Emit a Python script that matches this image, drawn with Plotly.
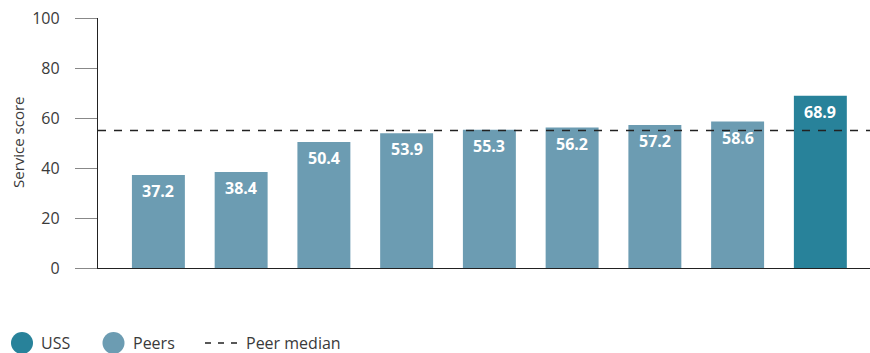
import plotly.graph_objects as go

# Service scores: eight peers (ascending) followed by USS
categories = ["Peer 1", "Peer 2", "Peer 3", "Peer 4", "Peer 5",
              "Peer 6", "Peer 7", "Peer 8", "USS"]
scores = [37.2, 38.4, 50.4, 53.9, 55.3, 56.2, 57.2, 58.6, 68.9]
groups = ["Peers"] * 8 + ["USS"]
peer_median = 55.0
y_ticks = [0, 20, 40, 60, 80, 100]

PEER_COLOR = "#6C9CB2"
USS_COLOR = "#28829A"
TEXT_COLOR = "#3a3a3a"
FONT = "Open Sans, Segoe UI, sans-serif"

colors = [USS_COLOR if g == "USS" else PEER_COLOR for g in groups]
xpos = list(range(len(categories)))

fig = go.Figure()
fig.add_trace(go.Bar(
    x=xpos, y=scores, width=0.64,
    marker=dict(color=colors, line=dict(width=0)),
    hovertext=categories, showlegend=False,
))

# value labels just inside the top of each bar
for xi, v in zip(xpos, scores):
    fig.add_annotation(
        x=xi, y=v, xref="x", yref="y", text=f"<b>{v:.1f}</b>",
        showarrow=False, yanchor="top", yshift=-3,
        font=dict(family=FONT, size=16, color="white"),
    )

# peer median reference line
fig.add_shape(type="line", xref="paper", yref="y", x0=0, x1=1,
              y0=peer_median, y1=peer_median,
              line=dict(color="#222222", width=1.4, dash="8px,8px"))

# y-axis title
fig.add_annotation(x=(18 - 98) / 772, y=0.5, xref="paper", yref="paper",
                   text="Service score", textangle=-90, showarrow=False,
                   xanchor="center", yanchor="middle",
                   font=dict(family=FONT, size=15, color=TEXT_COLOR))

# legend drawn beneath the plot
leg_y = -0.30
def circle(cx_px, color):
    fig.add_shape(type="circle", xref="paper", yref="paper",
                  xsizemode="pixel", ysizemode="pixel",
                  xanchor=(cx_px - 98) / 772, yanchor=leg_y,
                  x0=-11, x1=11, y0=-11, y1=11,
                  fillcolor=color, line=dict(width=0))

def label(px, text):
    fig.add_annotation(x=(px - 98) / 772, y=leg_y, xref="paper", yref="paper",
                       text=text, showarrow=False, xanchor="left",
                       yanchor="middle",
                       font=dict(family=FONT, size=16, color=TEXT_COLOR))

circle(22, USS_COLOR)
label(39, "USS")
circle(113.5, PEER_COLOR)
label(131, "Peers")
fig.add_shape(type="line", xref="paper", yref="paper",
              x0=(205 - 98) / 772, x1=(238 - 98) / 772, y0=leg_y, y1=leg_y,
              line=dict(color="#222222", width=1.3, dash="6px,7px"))
label(244, "Peer median")

fig.update_layout(
    width=870, height=353,
    margin=dict(l=98, r=0, t=18, b=85),
    plot_bgcolor="white", paper_bgcolor="white",
    font=dict(family=FONT, color=TEXT_COLOR),
    xaxis=dict(range=[-0.73, 8.6], showticklabels=False, ticks="",
               showgrid=False, zeroline=False, showline=True,
               linecolor="#222222", linewidth=1.3, fixedrange=True),
    yaxis=dict(range=[0, 100], tickvals=y_ticks, ticks="outside",
               ticklen=22, tickcolor="#888888", tickwidth=1.3,
               ticklabelstandoff=12,
               showgrid=False, zeroline=False, showline=True,
               linecolor="#222222", linewidth=1.3,
               tickfont=dict(family=FONT, size=16, color=TEXT_COLOR),
               fixedrange=True),
)

fig.write_html("out.html")
